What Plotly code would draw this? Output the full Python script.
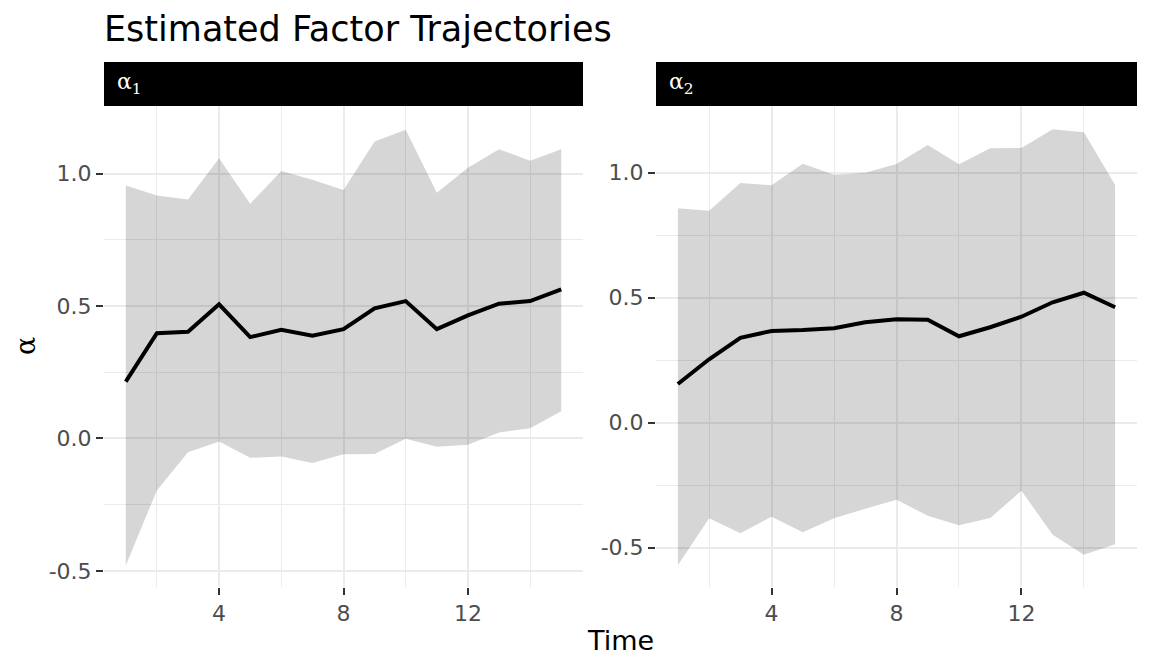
import plotly.graph_objects as go

# ---- data ----
time = list(range(1, 16))

alpha1_mean = [0.215, 0.398, 0.403, 0.507, 0.383, 0.411, 0.388, 0.413, 0.492, 0.519, 0.413, 0.465, 0.509, 0.519, 0.563]
alpha1_upper = [0.956, 0.918, 0.903, 1.059, 0.887, 1.010, 0.977, 0.939, 1.122, 1.166, 0.928, 1.023, 1.093, 1.049, 1.093]
alpha1_lower = [-0.480, -0.196, -0.052, -0.011, -0.073, -0.068, -0.093, -0.060, -0.059, -0.001, -0.031, -0.024, 0.023, 0.039, 0.103]

alpha2_mean = [0.154, 0.253, 0.339, 0.366, 0.370, 0.377, 0.401, 0.413, 0.411, 0.345, 0.381, 0.423, 0.481, 0.519, 0.461]
alpha2_upper = [0.857, 0.847, 0.958, 0.949, 1.035, 0.991, 0.999, 1.034, 1.110, 1.033, 1.097, 1.098, 1.173, 1.161, 0.950]
alpha2_lower = [-0.571, -0.383, -0.443, -0.377, -0.439, -0.383, -0.345, -0.309, -0.373, -0.411, -0.382, -0.273, -0.449, -0.529, -0.487]

panel_labels = ["α<sub>1</sub>", "α<sub>2</sub>"]
x_tickvals = [4, 8, 12]
y_tickvals = [-0.5, 0.0, 0.5, 1.0]
y_ticktext = ["-0.5", "0.0", "0.5", "1.0"]

# page has an 8px body margin; the figure is sized to fit the window
OFF = 8
W, H = 1152 - OFF, 672 - OFF
def px(x):
    return (x - OFF) / W
def py(y):
    return 1 - (y - OFF) / H

fig = go.Figure()

panels = [
    (alpha1_mean, alpha1_upper, alpha1_lower, "x", "y"),
    (alpha2_mean, alpha2_upper, alpha2_lower, "x2", "y2"),
]
ribbon_fill = "rgba(0,0,0,0.16)"
for mean, up, lo, xa, ya in panels:
    fig.add_trace(go.Scatter(x=time, y=lo, mode="lines", line=dict(width=0),
                             xaxis=xa, yaxis=ya, showlegend=False, hoverinfo="skip"))
    fig.add_trace(go.Scatter(x=time, y=up, mode="lines", line=dict(width=0),
                             fill="tonexty", fillcolor=ribbon_fill,
                             xaxis=xa, yaxis=ya, showlegend=False, hoverinfo="skip"))
    fig.add_trace(go.Scatter(x=time, y=mean, mode="lines",
                             line=dict(color="black", width=4),
                             xaxis=xa, yaxis=ya, showlegend=False))

panel_top, panel_bot = 106, 587
left_dom = [px(104), px(583)]
right_dom = [px(656), px(1137)]
ydom = [py(panel_bot), py(panel_top)]

grid_major = "#EBEBEB"
tick_font = dict(family="DejaVu Sans", size=22, color="#4D4D4D")

def xaxis_cfg(dom, anchor):
    return dict(domain=dom, anchor=anchor, range=[0.3, 15.7],
                tickvals=x_tickvals, ticktext=[str(v) for v in x_tickvals],
                showgrid=True, gridcolor=grid_major, gridwidth=2.2,
                minor=dict(tickvals=[2, 6, 10, 14], showgrid=True,
                           gridcolor=grid_major, gridwidth=1.1, ticks=""),
                ticks="outside", ticklen=7, tickwidth=2, tickcolor="#333333",
                tickfont=tick_font, zeroline=False, showline=False, fixedrange=True)

def yaxis_cfg(dom, anchor, rng):
    return dict(domain=dom, anchor=anchor, range=rng,
                tickvals=y_tickvals, ticktext=y_ticktext,
                showgrid=True, gridcolor=grid_major, gridwidth=2.2,
                minor=dict(tickvals=[-0.25, 0.25, 0.75], showgrid=True,
                           gridcolor=grid_major, gridwidth=1.1, ticks=""),
                ticks="outside", ticklen=7, tickwidth=2, tickcolor="#333333",
                tickfont=tick_font, zeroline=False, showline=False, fixedrange=True)

fig.update_layout(
    width=W, height=H,
    margin=dict(l=0, r=0, t=0, b=0),
    paper_bgcolor="white", plot_bgcolor="white",
    xaxis=xaxis_cfg(left_dom, "y"),
    yaxis=yaxis_cfg(ydom, "x", [-0.561, 1.256]),
    xaxis2=xaxis_cfg(right_dom, "y2"),
    yaxis2=yaxis_cfg(ydom, "x2", [-0.658, 1.266]),
    showlegend=False,
)

# strips
for dom, lab in zip([left_dom, right_dom], panel_labels):
    fig.add_shape(type="rect", xref="paper", yref="paper",
                  x0=dom[0], x1=dom[1], y0=py(106), y1=py(62),
                  fillcolor="black", line=dict(width=0), layer="above")
    fig.add_annotation(xref="paper", yref="paper", x=dom[0] + 11 / W, y=py(84),
                       xanchor="left", yanchor="middle", showarrow=False,
                       text=lab, font=dict(family="DejaVu Serif", size=22, color="white"))

# title
fig.add_annotation(xref="paper", yref="paper", x=px(102), y=py(29),
                   xanchor="left", yanchor="middle", showarrow=False,
                   text="Estimated Factor Trajectories",
                   font=dict(family="DejaVu Sans", size=35, color="black"))
# axis titles
fig.add_annotation(xref="paper", yref="paper", x=px(620), y=py(640),
                   xanchor="center", yanchor="middle", showarrow=False,
                   text="Time", font=dict(family="DejaVu Sans", size=27, color="black"))
fig.add_annotation(xref="paper", yref="paper", x=px(25), y=py(346),
                   xanchor="center", yanchor="middle", showarrow=False, textangle=-90,
                   text="α", font=dict(family="DejaVu Serif", size=27, color="black"))

fig.write_html("out.html")
